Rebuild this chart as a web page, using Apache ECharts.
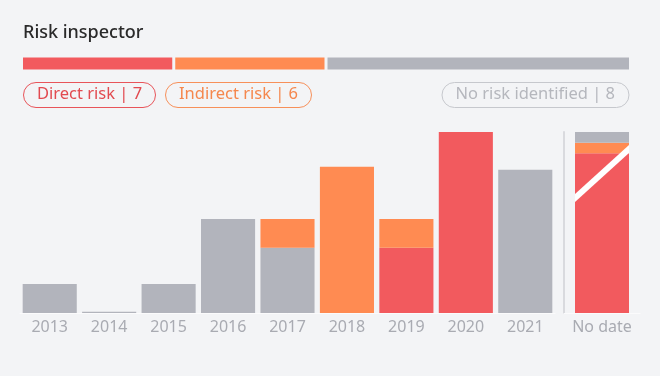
<!DOCTYPE html>
<html style="height: 100%">
<head>
<meta charset="utf-8">
</head>
<body style="height: 100%; margin: 0; background: #f3f4f6">
<div id="container" style="width: 660px; height: 376px;"></div>
<script type="text/javascript" src="https://cdn.jsdelivr.net/npm/echarts@6/dist/echarts.min.js"></script>
<script type="text/javascript">
// years with a date
var years = ['2013', '2014', '2015', '2016', '2017', '2018', '2019', '2020', '2021'];
var directRisk   = [0, 0, 0, 0, 0, 0, 4.5, 12.5, 0];
var noRisk       = [2, 0.08, 2, 6.5, 4.5, 0, 0, 0, 9.9];
var indirectRisk = [0, 0, 0, 0, 2, 10.1, 2, 0, 0];

// "No date" column (own, broken scale)
var noDateLabel = ['No date'];
var noDateDirect = [30];
var noDateIndirect = [2];
var noDateNone = [2];

// summary strip shares
var shareDirect = [25];
var shareIndirect = [25];
var shareNone = [50];

var pillTexts = ['Direct risk | 7', 'Indirect risk | 6', 'No risk identified | 8'];

var RED = '#f25a5e', ORANGE = '#ff8b52', GRAY = '#b2b4bc', BG = '#f3f4f6';
var FONT = 'Noto Sans';

var dom = document.getElementById('container');
var myChart = echarts.init(dom);

function pill(text, color, border, pos) {
    var t = {
        text: text,
        top: 82,
        padding: [4, 14, 5, 14],
        borderColor: border,
        borderWidth: 1,
        borderRadius: 14,
        textStyle: { color: color, fontSize: 16.5, fontWeight: 'normal', fontFamily: FONT }
    };
    for (var k in pos) t[k] = pos[k];
    return t;
}

var option = {
    backgroundColor: BG,
    animation: false,
    title: [
        { text: 'Risk inspector', left: 23, top: 24, padding: 0,
          textStyle: { color: '#2a2a2a', fontSize: 18, fontWeight: 500, fontFamily: FONT } },
        pill(pillTexts[0], '#e24a50', '#e8545a', { left: 23 }),
        pill(pillTexts[1], '#f5874d', '#f7905a', { left: 165 }),
        pill(pillTexts[2], '#b5b7bd', '#c6c8cd', { right: 31 })
    ],
    grid: [
        { left: 20, width: 535, top: 132, bottom: 63 },
        { left: 564, width: 76, top: 132, bottom: 63 },
        { left: 21.5, right: 29.5, top: 56, height: 15 }
    ],
    xAxis: [
        { type: 'category', gridIndex: 0, data: years,
          axisLine: { lineStyle: { color: '#fbfbfc', width: 1 } },
          axisTick: { show: false },
          axisLabel: { color: '#a9abb2', fontSize: 16, fontFamily: FONT, margin: 6 } },
        { type: 'category', gridIndex: 1, data: noDateLabel,
          axisLine: { lineStyle: { color: '#fbfbfc', width: 1 } },
          axisTick: { show: false },
          axisLabel: { color: '#a9abb2', fontSize: 16, fontFamily: FONT, margin: 6 } },
        { type: 'value', gridIndex: 2, min: 0, max: 100, show: false }
    ],
    yAxis: [
        { type: 'value', gridIndex: 0, min: 0, max: 12.5, show: false },
        { type: 'value', gridIndex: 1, min: 0, max: 34,
          axisLine: { show: true, lineStyle: { color: '#d9dade', width: 2 } },
          axisTick: { show: false }, axisLabel: { show: false }, splitLine: { show: false } },
        { type: 'category', gridIndex: 2, data: ['all'], show: false }
    ],
    series: [
        { type: 'bar', name: 'Direct', stack: 'y', data: directRisk, barCategoryGap: '9%',
          itemStyle: { color: RED } },
        { type: 'bar', name: 'None', stack: 'y', data: noRisk, itemStyle: { color: GRAY } },
        { type: 'bar', name: 'Indirect', stack: 'y', data: indirectRisk, itemStyle: { color: ORANGE } },

        { type: 'bar', xAxisIndex: 1, yAxisIndex: 1, stack: 'nd', data: noDateDirect, barWidth: 54,
          itemStyle: { color: RED } },
        { type: 'bar', xAxisIndex: 1, yAxisIndex: 1, stack: 'nd', data: noDateIndirect, barWidth: 54,
          itemStyle: { color: ORANGE } },
        { type: 'bar', xAxisIndex: 1, yAxisIndex: 1, stack: 'nd', data: noDateNone, barWidth: 54,
          itemStyle: { color: GRAY } },

        { type: 'bar', xAxisIndex: 2, yAxisIndex: 2, stack: 's', data: shareDirect, barWidth: 15,
          itemStyle: { color: RED, borderColor: BG, borderWidth: 1.5 } },
        { type: 'bar', xAxisIndex: 2, yAxisIndex: 2, stack: 's', data: shareIndirect, barWidth: 15,
          itemStyle: { color: ORANGE, borderColor: BG, borderWidth: 1.5 } },
        { type: 'bar', xAxisIndex: 2, yAxisIndex: 2, stack: 's', data: shareNone, barWidth: 15,
          itemStyle: { color: GRAY, borderColor: BG, borderWidth: 1.5 } }
    ]
};
myChart.setOption(option);

// white break stripe across the "No date" bar
var pb = myChart.convertToPixel({ xAxisIndex: 1, yAxisIndex: 1 }, [0, 0]);
var x0 = pb[0] - 27, x1 = pb[0] + 27;
myChart.setOption({
    graphic: [{
        type: 'polygon',
        shape: { points: [[x0, 194], [x1, 145], [x1, 153], [x0, 202]] },
        style: { fill: '#ffffff' },
        z: 100
    }]
});
</script>
</body>
</html>
